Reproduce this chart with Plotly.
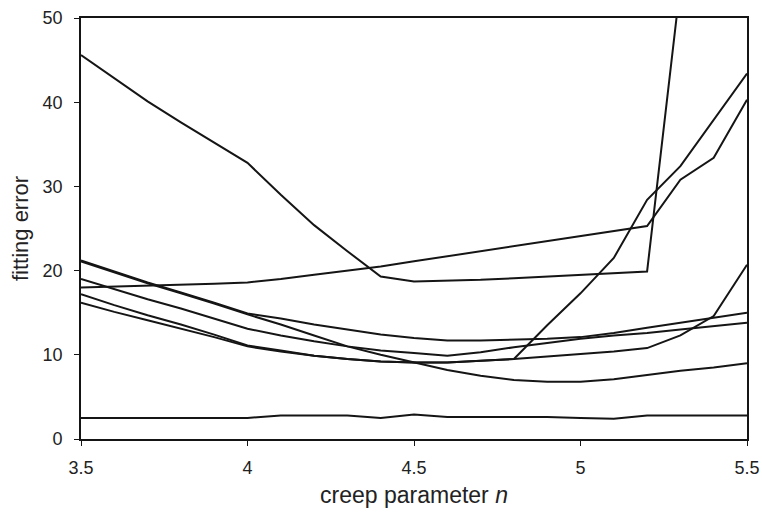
import plotly.graph_objects as go

n_values = [3.5, 3.6, 3.7, 3.8, 3.9, 4.0, 4.1, 4.2, 4.3, 4.4, 4.5,
            4.6, 4.7, 4.8, 4.9, 5.0, 5.1, 5.2, 5.3, 5.4, 5.5]

series_a = [45.6, 42.8, 40.1, 37.6, 35.2, 32.8, 29.0, 25.4, 22.3, 19.3, 18.7,
            18.8, 18.9, 19.1, 19.3, 19.5, 19.7, 19.9, 54.0, None, None]
series_b = [18.0, 18.1, 18.2, 18.3, 18.45, 18.6, 19.0, 19.5, 20.0, 20.5, 21.1,
            21.7, 22.3, 22.9, 23.5, 24.1, 24.7, 25.3, 30.8, 33.4, 40.3]
series_c = [17.2, 15.9, 14.7, 13.6, 12.4, 11.1, 10.5, 9.9, 9.5, 9.2, 9.1,
            9.1, 9.3, 9.5, 13.5, 17.3, 21.5, 28.4, 32.4, 37.9, 43.4]
series_d = [16.2, 15.1, 14.1, 13.1, 12.1, 11.0, 10.4, 9.9, 9.5, 9.2, 9.1,
            9.1, 9.3, 9.5, 9.8, 10.1, 10.4, 10.8, 12.3, 14.6, 20.7]
series_e = [21.2, 19.9, 18.6, 17.4, 16.2, 14.9, 14.3, 13.6, 13.0, 12.4, 12.0,
            11.7, 11.7, 11.8, 11.9, 12.1, 12.6, 13.2, 13.8, 14.4, 15.0]
series_f = [21.1, 19.8, 18.5, 17.3, 16.1, 14.8, 13.6, 12.3, 11.0, 10.0, 9.1,
            8.2, 7.5, 7.0, 6.8, 6.8, 7.1, 7.6, 8.1, 8.5, 9.0]
series_g = [19.0, 17.8, 16.6, 15.5, 14.3, 13.1, 12.3, 11.6, 11.0, 10.5, 10.2,
            9.9, 10.3, 10.9, 11.4, 11.9, 12.3, 12.6, 13.0, 13.4, 13.8]
series_h = [2.5, 2.5, 2.5, 2.5, 2.5, 2.5, 2.8, 2.8, 2.8, 2.5, 2.9,
            2.6, 2.6, 2.6, 2.6, 2.5, 2.4, 2.8, 2.8, 2.8, 2.8]

x_ticks = [3.5, 4, 4.5, 5, 5.5]
x_tick_labels = ["3.5", "4", "4.5", "5", "5.5"]
y_ticks = [0, 10, 20, 30, 40, 50]

all_series = [series_a, series_b, series_c, series_d,
              series_e, series_f, series_g, series_h]

fig = go.Figure()
for s in all_series:
    fig.add_trace(go.Scatter(x=n_values, y=s, mode="lines",
                             line=dict(color="#151515", width=2),
                             showlegend=False, connectgaps=False))

font_family = "Liberation Sans, Arial, Helvetica, sans-serif"
fig.update_layout(
    width=762, height=518,
    margin=dict(l=81, r=15, t=18, b=79),
    paper_bgcolor="white", plot_bgcolor="white",
    font=dict(family=font_family, color="#222222", size=18),
)
fig.update_xaxes(
    range=[3.5, 5.5], tickvals=x_ticks, ticktext=x_tick_labels,
    showgrid=False, zeroline=False, automargin=False,
    showline=True, linecolor="#151515", linewidth=1.8, mirror=True,
    ticks="outside", ticklen=5, tickcolor="#151515", tickwidth=1,
    tickfont=dict(size=18), ticklabelstandoff=6,
    title=dict(text="creep parameter <i>n</i>", font=dict(size=23), standoff=10),
)
fig.update_yaxes(
    range=[0, 50], tickvals=y_ticks,
    showgrid=False, zeroline=False, automargin=False,
    showline=True, linecolor="#151515", linewidth=1.8, mirror=True,
    ticks="outside", ticklen=5, tickcolor="#151515", tickwidth=1,
    tickfont=dict(size=18), ticklabelstandoff=8,
    title=dict(text="fitting error", font=dict(size=22), standoff=8),
)

fig.write_html("out.html")
